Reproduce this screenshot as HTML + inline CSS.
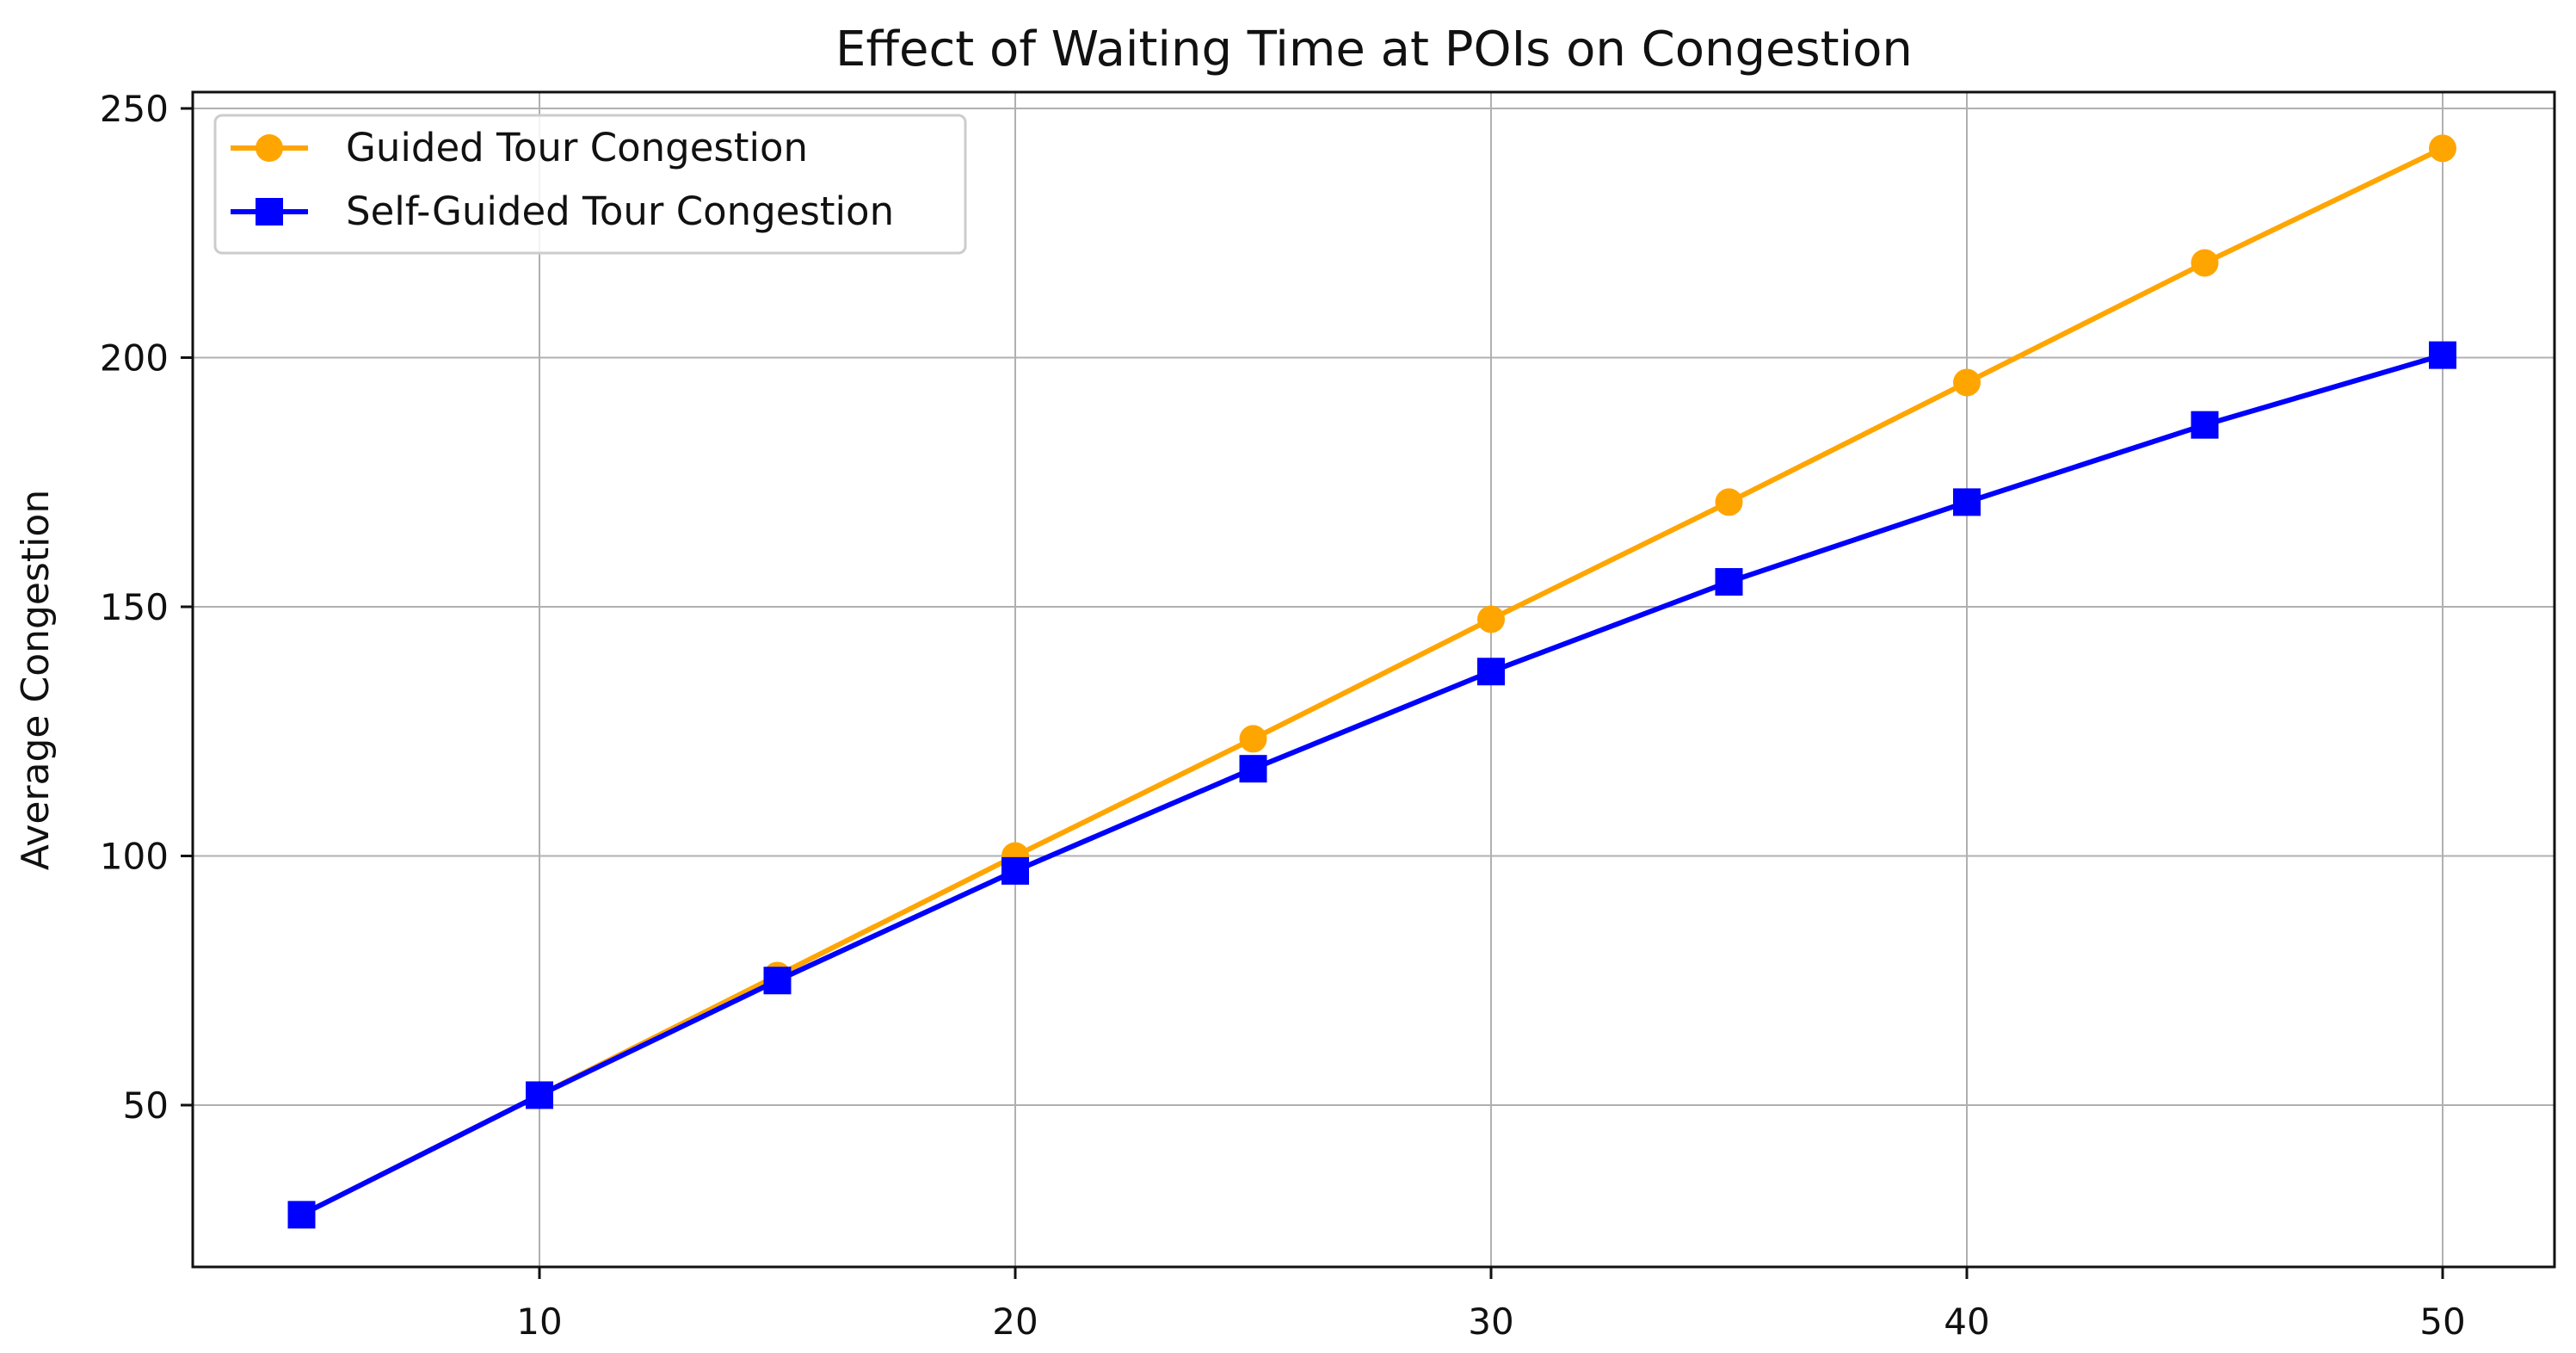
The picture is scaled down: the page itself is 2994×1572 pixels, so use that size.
<!DOCTYPE html>
<html><head><meta charset="utf-8"><style>
html,body{margin:0;padding:0;background:#fff;}
svg text{font-family:"DejaVu Sans","Liberation Sans",sans-serif;fill:#111;}
</style></head><body>
<svg id="chart" width="2994" height="1567" viewBox="0 0 2994 1567" xmlns="http://www.w3.org/2000/svg">
<rect width="2994" height="1567" fill="#fff"/>
<text x="1597" y="76" font-size="56" text-anchor="middle">Effect of Waiting Time at POIs on Congestion</text>
<text x="0" y="0" font-size="44" text-anchor="middle" transform="translate(56,790) rotate(-90)">Average Congestion</text>
<g id="grid"></g>
<g id="series"></g>
<rect x="224" y="107" width="2745" height="1365" fill="none" stroke="#111" stroke-width="3"/>
<g id="ticks"></g>
<g>
<rect x="250" y="134" width="872" height="160" rx="8" fill="#fff" fill-opacity="0.85" stroke="#ccc" stroke-width="3"/>
<line x1="268" y1="172" x2="358" y2="172" stroke="#FFA500" stroke-width="6"/>
<circle cx="313" cy="172" r="16" fill="#FFA500"/>
<text x="402" y="187" font-size="45">Guided Tour Congestion</text>
<line x1="268" y1="246" x2="358" y2="246" stroke="#0000FF" stroke-width="6"/>
<rect x="297" y="230" width="32" height="32" fill="#0000FF"/>
<text x="402" y="261" font-size="45">Self-Guided Tour Congestion</text>
</g>
</svg>
<script>
const xValues = [5,10,15,20,25,30,35,40,45,50];
const guided = [28,52,76,100,123.5,147.5,171,195,219,242];
const selfGuided = [28,52,75,97,117.5,137,155,171,186.5,200.5];
const xTicks = [10,20,30,40,50];
const yTicks = [50,100,150,200,250];
const NS='http://www.w3.org/2000/svg';
function xs(v){return 627+(v-10)*55.3;}
function ys(v){return 1284-(v-50)*5.79;}
function mk(tag,attrs,parent){const e=document.createElementNS(NS,tag);for(const k in attrs)e.setAttribute(k,attrs[k]);parent.appendChild(e);return e;}
const grid=document.getElementById('grid'),ticks=document.getElementById('ticks'),series=document.getElementById('series');
xTicks.forEach(t=>{
  const g=mk('line',{x1:xs(t),x2:xs(t),y1:107,y2:1472,stroke:'#b0b0b0','stroke-width':2},grid);
  
  
  mk('line',{x1:xs(t),x2:xs(t),y1:1472,y2:1486,stroke:'#111','stroke-width':3},ticks);
  const l=mk('text',{x:xs(t),y:1550,'font-size':42,'text-anchor':'middle'},ticks);
  l.textContent=t;
  
  
});
yTicks.forEach(t=>{
  const g=mk('line',{x1:224,x2:2969,y1:ys(t),y2:ys(t),stroke:'#b0b0b0','stroke-width':2},grid);
  
  
  mk('line',{x1:210,x2:224,y1:ys(t),y2:ys(t),stroke:'#111','stroke-width':3},ticks);
  const l=mk('text',{x:196,y:ys(t)+15,'font-size':42,'text-anchor':'end'},ticks);
  l.textContent=t;
  
  
});
function draw(vals,color,square,name){
  const p=mk('polyline',{points:vals.map((v,i)=>xs(xValues[i])+','+ys(v)).join(' '),fill:'none',stroke:color,'stroke-width':6},series);
  
  
  vals.forEach((v,i)=>{
    let m;
    if(square)m=mk('rect',{x:xs(xValues[i])-16,y:ys(v)-16,width:32,height:32,fill:color},series);
    else m=mk('circle',{cx:xs(xValues[i]),cy:ys(v),r:16,fill:color},series);
    
    
  });
}
draw(guided,'#FFA500',false,'guided');
draw(selfGuided,'#0000FF',true,'self-guided');
</script>
</body></html>
